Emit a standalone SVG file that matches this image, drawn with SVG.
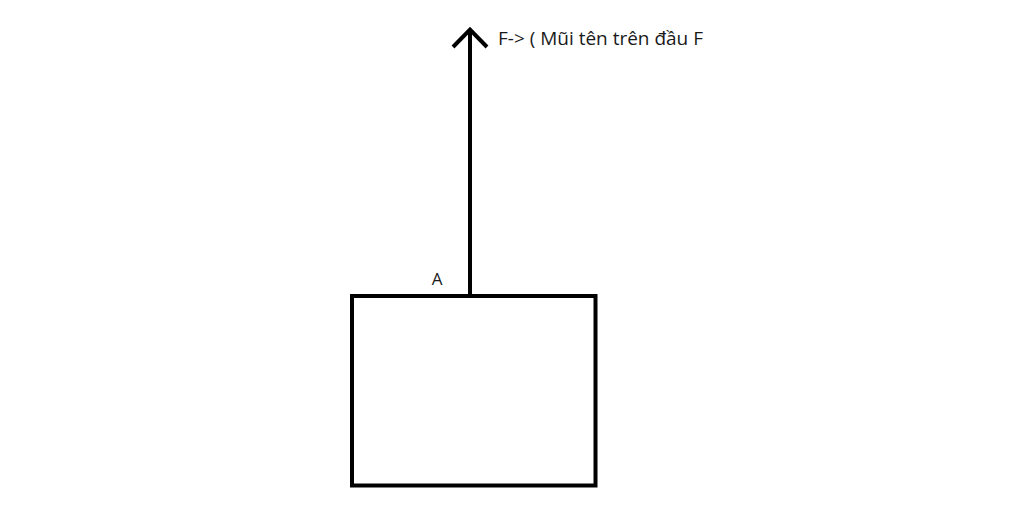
<svg xmlns="http://www.w3.org/2000/svg" width="1024" height="528" viewBox="0 0 1024 528">
<style>
.lbl{font-family:"Open Sans","Noto Sans","DejaVu Sans",sans-serif;fill:#1a1a1a}
.stk{fill:none;stroke:#000;stroke-width:4}
</style>
<rect width="1024" height="528" fill="#fff"/>
<g id="box">
<rect class="stk" x="352" y="296" width="243.5" height="189.5"/>
</g>
<g id="pointA">
<text class="lbl" x="437" y="284.5" font-size="17" text-anchor="middle">A</text>
</g>
<g id="connectors">
<line class="stk" x1="470" y1="296" x2="470" y2="29"/>
<polyline class="stk" points="453,47 470,29.5 487,47"/>
</g>
<g id="forceLabel">
<text class="lbl" x="498" y="45" font-size="18" textLength="205" lengthAdjust="spacingAndGlyphs">F-&gt; ( Mũi tên trên đầu F</text>
</g>
</svg>
